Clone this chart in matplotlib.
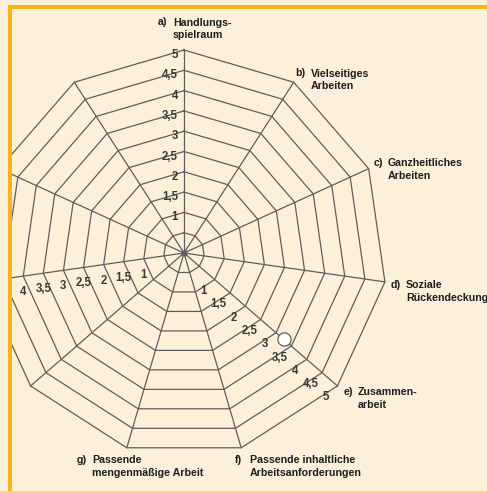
import numpy as np
import matplotlib
matplotlib.use("Agg")
import matplotlib.pyplot as plt
from matplotlib import transforms
from matplotlib.patches import Rectangle

# ---- data ----
n_spokes = 11
prefixes = ['a)', 'b)', 'c)', 'd)', 'e)', 'f)', 'g)']
categories = ['Handlungs-\nspielraum', 'Vielseitiges\nArbeiten', 'Ganzheitliches\nArbeiten',
              'Soziale\nRückendeckung', 'Zusammen-\narbeit',
              'Passende inhaltliche\nArbeitsanforderungen', 'Passende\nmengenmäßige Arbeit']
ring_values = [0.5, 1, 1.5, 2, 2.5, 3, 3.5, 4, 4.5, 5]
tick_values = [1, 1.5, 2, 2.5, 3, 3.5, 4, 4.5, 5]
tick_labels = ['1', '1,5', '2', '2,5', '3', '3,5', '4', '4,5', '5']
tick_spokes = [0, 4, 8]          # spokes carrying scale labels (a, e, left)
marker_spoke = 4                 # e) Zusammenarbeit
marker_value = 3.25
r_max = 5

# ---- styling ----
BG = '#fdf0da'
ORANGE = '#fbb31c'
LINE = '#5e5e5e'
TXT = '#1e1e1e'
plt.rcParams['font.family'] = ['Liberation Sans', 'DejaVu Sans']
FS = 7.7
FS_TICK = 8.3

W, H, DPI = 487, 493, 100
fig = plt.figure(figsize=(W / DPI, H / DPI), dpi=DPI, facecolor=BG)

px_per_unit = 40.6
cx, cy = 184, 253   # centre in pixels (from top-left)
ax_left, ax_top = 12, 9
ax = fig.add_axes([ax_left / W, 0, (W - ax_left) / W, (H - ax_top) / H])
ax.set_facecolor(BG)
xmin = (ax_left - cx) / px_per_unit
ax.set_xlim(xmin, (W - cx) / px_per_unit)
ax.set_ylim(-(H - cy) / px_per_unit, (cy - ax_top) / px_per_unit)
ax.set_aspect('auto')
ax.axis('off')

angles = np.deg2rad(90 - np.arange(n_spokes) * 360.0 / n_spokes)
cosA, sinA = np.cos(angles), np.sin(angles)

# rings
for r in ring_values:
    xs = np.append(r * cosA, r * cosA[0])
    ys = np.append(r * sinA, r * sinA[0])
    ax.plot(xs, ys, color=LINE, lw=0.9, solid_joinstyle='miter')
# spokes
for i in range(n_spokes):
    ax.plot([0, r_max * cosA[i]], [0, r_max * sinA[i]], color=LINE, lw=0.9)
ax.plot([0], [0], 'o', color=LINE, ms=3.5)

# scale labels
def off(dx, dy):
    return transforms.offset_copy(ax.transData, fig, x=dx, y=-dy, units='dots')

for s in tick_spokes:
    for v, lab in zip(tick_values, tick_labels):
        x, y = v * cosA[s], v * sinA[s]
        if x - 0.2 < xmin:      # falls outside the cropped frame
            continue
        kw = dict(fontsize=FS_TICK, fontweight='bold', color='#3a3a3a')
        if s == 0:
            ax.text(x, y, lab, transform=off(-6, 5), ha='right', va='center', **kw)
        elif s == 4:
            ax.text(x, y, lab, transform=off(-11.5, 11.5), ha='center', va='center', **kw)
        else:
            ax.text(x, y, lab, transform=off(0, 16), ha='center', va='center', **kw)

# marker
ax.plot([marker_value * cosA[marker_spoke]], [marker_value * sinA[marker_spoke]], 'o',
        ms=9.5, mfc='white', mec=LINE, mew=0.9, zorder=5)

# category labels: (prefix dx, text dx, first-line dy) in pixels from vertex
label_layout = [(-26, -11, -28), (2, 17, -9), (5, 19, -6), (6, 21, 3),
                (6, 20, 6), (-6, 9, 12), (-50, -35, 12)]
line_gap = 13.5
for i, (p, c) in enumerate(zip(prefixes, categories)):
    x, y = r_max * cosA[i], r_max * sinA[i]
    pdx, tdx, dy = label_layout[i]
    ax.text(x, y, p, transform=off(pdx, dy), ha='left', va='center',
            fontsize=FS, fontweight='bold', color=TXT)
    ax.text(x, y, c, transform=off(tdx, dy + line_gap / 2), ha='left', va='center',
            fontsize=FS, fontweight='bold', color=TXT, linespacing=1.3)

# frame bands
fig.add_artist(Rectangle((8 / W, 1 - 9 / H), 1, 4 / H, transform=fig.transFigure,
                         color=ORANGE, lw=0, zorder=10))
fig.add_artist(Rectangle((8 / W, 0), 4 / W, 1 - 5 / H, transform=fig.transFigure,
                         color=ORANGE, lw=0, zorder=10))
fig.add_artist(Rectangle((0, 0), 1, 2 / H, transform=fig.transFigure,
                         color='#fcd970', lw=0, zorder=10))

fig.savefig('out.png', dpi=DPI, facecolor=BG)
